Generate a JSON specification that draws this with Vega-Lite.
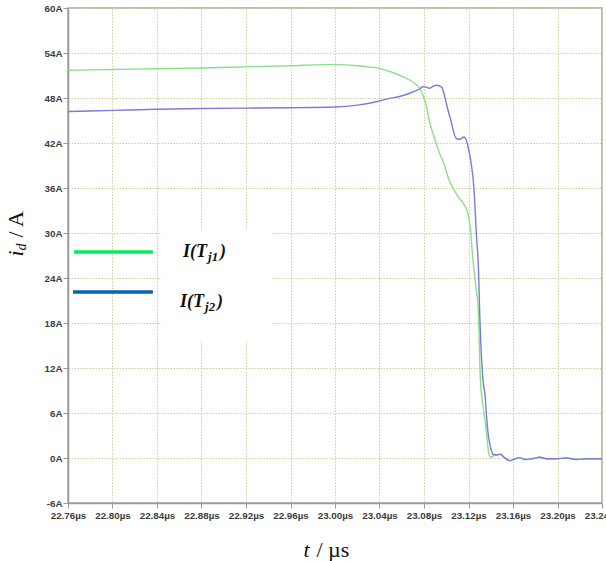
{
  "$schema": "https://vega.github.io/schema/vega-lite/v6.json",
  "width": 534,
  "height": 495,
  "autosize": {"type": "none"},
  "padding": {"left": 68, "top": 8, "right": 4, "bottom": 58},
  "background": "white",
  "config": {
    "view": {"stroke": "#a8a8a8", "strokeWidth": 1.5},
    "axis": {
      "labelFont": "Liberation Sans",
      "labelFontWeight": "bold",
      "labelFontSize": 9.8,
      "labelColor": "#3c3c3c",
      "labelFlush": false,
      "labelOverlap": false,
      "domainColor": "#9a9a9a",
      "domainWidth": 1.5,
      "tickColor": "#9a9a9a",
      "tickSize": 5,
      "gridColor": "#cfcf9c",
      "gridDash": [1.5, 1.5],
      "gridWidth": 1,
      "titleColor": "#111111",
      "titleFont": "Liberation Serif",
      "titleFontWeight": "normal"
    }
  },
  "datasets": {
    "curves": [
      {"series": "I(Tj1)", "t": 22.76, "i": 51.7},
      {"series": "I(Tj1)", "t": 22.80, "i": 51.8},
      {"series": "I(Tj1)", "t": 22.84, "i": 51.9},
      {"series": "I(Tj1)", "t": 22.88, "i": 52.0},
      {"series": "I(Tj1)", "t": 22.92, "i": 52.15},
      {"series": "I(Tj1)", "t": 22.96, "i": 52.3},
      {"series": "I(Tj1)", "t": 22.99, "i": 52.45},
      {"series": "I(Tj1)", "t": 23.005, "i": 52.45},
      {"series": "I(Tj1)", "t": 23.02, "i": 52.3},
      {"series": "I(Tj1)", "t": 23.03, "i": 52.15},
      {"series": "I(Tj1)", "t": 23.04, "i": 51.95},
      {"series": "I(Tj1)", "t": 23.05, "i": 51.5},
      {"series": "I(Tj1)", "t": 23.06, "i": 50.9},
      {"series": "I(Tj1)", "t": 23.067, "i": 50.4},
      {"series": "I(Tj1)", "t": 23.072, "i": 49.9},
      {"series": "I(Tj1)", "t": 23.076, "i": 49.3},
      {"series": "I(Tj1)", "t": 23.079, "i": 48.4},
      {"series": "I(Tj1)", "t": 23.082, "i": 47.0},
      {"series": "I(Tj1)", "t": 23.085, "i": 44.8},
      {"series": "I(Tj1)", "t": 23.09, "i": 42.4},
      {"series": "I(Tj1)", "t": 23.094, "i": 40.6},
      {"series": "I(Tj1)", "t": 23.097, "i": 39.6},
      {"series": "I(Tj1)", "t": 23.102, "i": 37.3},
      {"series": "I(Tj1)", "t": 23.106, "i": 36.0},
      {"series": "I(Tj1)", "t": 23.11, "i": 35.0},
      {"series": "I(Tj1)", "t": 23.115, "i": 34.0},
      {"series": "I(Tj1)", "t": 23.1195, "i": 32.6},
      {"series": "I(Tj1)", "t": 23.122, "i": 30.0},
      {"series": "I(Tj1)", "t": 23.124, "i": 26.4},
      {"series": "I(Tj1)", "t": 23.1267, "i": 22.8},
      {"series": "I(Tj1)", "t": 23.1288, "i": 19.7},
      {"series": "I(Tj1)", "t": 23.1307, "i": 10.4},
      {"series": "I(Tj1)", "t": 23.133, "i": 7.0},
      {"series": "I(Tj1)", "t": 23.136, "i": 3.7},
      {"series": "I(Tj1)", "t": 23.138, "i": 0.8},
      {"series": "I(Tj1)", "t": 23.14, "i": 0.1},
      {"series": "I(Tj1)", "t": 23.143, "i": 0.3},
      {"series": "I(Tj1)", "t": 23.148, "i": 0.5},
      {"series": "I(Tj1)", "t": 23.152, "i": 0.1},
      {"series": "I(Tj1)", "t": 23.157, "i": -0.35},
      {"series": "I(Tj1)", "t": 23.162, "i": -0.1},
      {"series": "I(Tj1)", "t": 23.166, "i": 0.05},
      {"series": "I(Tj1)", "t": 23.171, "i": -0.2},
      {"series": "I(Tj1)", "t": 23.177, "i": -0.1},
      {"series": "I(Tj1)", "t": 23.184, "i": 0.1},
      {"series": "I(Tj1)", "t": 23.19, "i": -0.1},
      {"series": "I(Tj1)", "t": 23.199, "i": -0.1},
      {"series": "I(Tj1)", "t": 23.208, "i": 0.0},
      {"series": "I(Tj1)", "t": 23.217, "i": -0.2},
      {"series": "I(Tj1)", "t": 23.226, "i": -0.1},
      {"series": "I(Tj1)", "t": 23.24, "i": -0.1},
      {"series": "I(Tj2)", "t": 22.76, "i": 46.2},
      {"series": "I(Tj2)", "t": 22.80, "i": 46.35},
      {"series": "I(Tj2)", "t": 22.84, "i": 46.5},
      {"series": "I(Tj2)", "t": 22.88, "i": 46.6},
      {"series": "I(Tj2)", "t": 22.92, "i": 46.65},
      {"series": "I(Tj2)", "t": 22.96, "i": 46.7},
      {"series": "I(Tj2)", "t": 23.00, "i": 46.8},
      {"series": "I(Tj2)", "t": 23.02, "i": 47.05},
      {"series": "I(Tj2)", "t": 23.037, "i": 47.5},
      {"series": "I(Tj2)", "t": 23.049, "i": 47.95},
      {"series": "I(Tj2)", "t": 23.058, "i": 48.2},
      {"series": "I(Tj2)", "t": 23.07, "i": 48.8},
      {"series": "I(Tj2)", "t": 23.076, "i": 49.2},
      {"series": "I(Tj2)", "t": 23.079, "i": 49.5},
      {"series": "I(Tj2)", "t": 23.082, "i": 49.45},
      {"series": "I(Tj2)", "t": 23.085, "i": 49.3},
      {"series": "I(Tj2)", "t": 23.088, "i": 49.55},
      {"series": "I(Tj2)", "t": 23.091, "i": 49.7},
      {"series": "I(Tj2)", "t": 23.094, "i": 49.6},
      {"series": "I(Tj2)", "t": 23.096, "i": 49.4},
      {"series": "I(Tj2)", "t": 23.098, "i": 48.6},
      {"series": "I(Tj2)", "t": 23.1, "i": 47.3},
      {"series": "I(Tj2)", "t": 23.104, "i": 45.1},
      {"series": "I(Tj2)", "t": 23.109, "i": 42.6},
      {"series": "I(Tj2)", "t": 23.112, "i": 42.5},
      {"series": "I(Tj2)", "t": 23.116, "i": 42.8},
      {"series": "I(Tj2)", "t": 23.118, "i": 42.4},
      {"series": "I(Tj2)", "t": 23.12, "i": 41.2},
      {"series": "I(Tj2)", "t": 23.122, "i": 39.7},
      {"series": "I(Tj2)", "t": 23.125, "i": 35.7},
      {"series": "I(Tj2)", "t": 23.126, "i": 33.1},
      {"series": "I(Tj2)", "t": 23.127, "i": 30.0},
      {"series": "I(Tj2)", "t": 23.129, "i": 25.0},
      {"series": "I(Tj2)", "t": 23.13, "i": 19.7},
      {"series": "I(Tj2)", "t": 23.133, "i": 10.4},
      {"series": "I(Tj2)", "t": 23.135, "i": 8.2},
      {"series": "I(Tj2)", "t": 23.136, "i": 6.0},
      {"series": "I(Tj2)", "t": 23.138, "i": 2.8},
      {"series": "I(Tj2)", "t": 23.14, "i": 1.3},
      {"series": "I(Tj2)", "t": 23.142, "i": 0.5},
      {"series": "I(Tj2)", "t": 23.145, "i": 0.4},
      {"series": "I(Tj2)", "t": 23.149, "i": 0.5},
      {"series": "I(Tj2)", "t": 23.152, "i": 0.1},
      {"series": "I(Tj2)", "t": 23.157, "i": -0.35},
      {"series": "I(Tj2)", "t": 23.162, "i": -0.1},
      {"series": "I(Tj2)", "t": 23.166, "i": 0.05},
      {"series": "I(Tj2)", "t": 23.171, "i": -0.2},
      {"series": "I(Tj2)", "t": 23.177, "i": -0.1},
      {"series": "I(Tj2)", "t": 23.184, "i": 0.1},
      {"series": "I(Tj2)", "t": 23.19, "i": -0.1},
      {"series": "I(Tj2)", "t": 23.199, "i": -0.1},
      {"series": "I(Tj2)", "t": 23.208, "i": 0.0},
      {"series": "I(Tj2)", "t": 23.217, "i": -0.2},
      {"series": "I(Tj2)", "t": 23.226, "i": -0.1},
      {"series": "I(Tj2)", "t": 23.24, "i": -0.1}
    ],
    "legend": [
      {"series": "I(Tj1)", "x0": 22.7654, "x1": 22.8363, "level": 27.47, "tx": 22.8634, "ty": 26.8, "main": "I(T", "sub": "j1"},
      {"series": "I(Tj2)", "x0": 22.7645, "x1": 22.8363, "level": 22.13, "tx": 22.8607, "ty": 20.17, "main": "I(T", "sub": "j2"}
    ],
    "panel": [
      {"t": 22.8445, "t2": 22.9434, "i": 30.5, "i2": 15.7}
    ]
  },
  "layer": [
    {
      "data": {"name": "curves"},
      "mark": {"type": "line", "strokeWidth": 1.4, "interpolate": "monotone"},
      "encoding": {
        "x": {
          "field": "t", "type": "quantitative",
          "scale": {"domain": [22.76, 23.24], "nice": false, "zero": false},
          "axis": {
            "orient": "bottom",
            "values": [22.76, 22.8, 22.84, 22.88, 22.92, 22.96, 23.0, 23.04, 23.08, 23.12, 23.16, 23.2, 23.24],
            "labelExpr": "format(datum.value, '.2f') + 'µs'",
            "labelPadding": 2,
            "title": "t",
            "titleFontSize": 22,
            "titleFontStyle": "italic",
            "titleAlign": "left",
            "titleBaseline": "alphabetic",
            "titleX": 235,
            "titleY": 53
          }
        },
        "y": {
          "field": "i", "type": "quantitative",
          "scale": {"domain": [-6, 60], "nice": false, "zero": false},
          "axis": {
            "orient": "left",
            "values": [-6, 0, 6, 12, 18, 24, 30, 36, 42, 48, 54, 60],
            "labelExpr": "datum.value + 'A'",
            "labelPadding": 1,
            "title": "i",
            "titleFontSize": 22,
            "titleFontStyle": "italic",
            "titleAngle": 270,
            "titleAlign": "left",
            "titleBaseline": "alphabetic",
            "titleX": -46,
            "titleY": 248
          }
        },
        "color": {
          "field": "series", "type": "nominal",
          "scale": {"domain": ["I(Tj1)", "I(Tj2)"], "range": ["#8be08b", "#7b7bdc"]},
          "legend": null
        }
      }
    },
    {
      "data": {"name": "panel"},
      "mark": {"type": "rect", "fill": "white"},
      "encoding": {
        "x": {
          "field": "t", "type": "quantitative",
          "scale": {"domain": [22.76, 23.24], "nice": false, "zero": false},
          "axis": {
            "orient": "bottom", "labels": false, "ticks": false, "domain": false, "grid": false,
            "title": "/ µs",
            "titleFontSize": 22,
            "titleAlign": "left",
            "titleBaseline": "alphabetic",
            "titleX": 248,
            "titleY": 53
          }
        },
        "x2": {"field": "t2"},
        "y": {
          "field": "i", "type": "quantitative",
          "scale": {"domain": [-6, 60], "nice": false, "zero": false},
          "axis": {
            "orient": "left", "labels": false, "ticks": false, "domain": false, "grid": false,
            "title": "d",
            "titleFontSize": 14,
            "titleFontStyle": "italic",
            "titleAngle": 270,
            "titleAlign": "left",
            "titleBaseline": "alphabetic",
            "titleX": -43,
            "titleY": 242
          }
        },
        "y2": {"field": "i2"}
      }
    },
    {
      "data": {"name": "legend"},
      "mark": {"type": "rule", "strokeWidth": 3.5},
      "encoding": {
        "x": {
          "field": "x0", "type": "quantitative",
          "scale": {"domain": [22.76, 23.24], "nice": false, "zero": false},
          "axis": null
        },
        "x2": {"field": "x1"},
        "y": {
          "field": "level", "type": "quantitative",
          "scale": {"domain": [-6, 60], "nice": false, "zero": false},
          "axis": {
            "orient": "left", "labels": false, "ticks": false, "domain": false, "grid": false,
            "title": "/ A",
            "titleFontSize": 22,
            "titleAngle": 270,
            "titleAlign": "left",
            "titleBaseline": "alphabetic",
            "titleX": -46,
            "titleY": 229
          }
        },
        "stroke": {
          "field": "series", "type": "nominal",
          "scale": {"domain": ["I(Tj1)", "I(Tj2)"], "range": ["#00ee5a", "#0a62b0"]},
          "legend": null
        }
      }
    },
    {
      "data": {"name": "legend"},
      "mark": {"type": "text", "align": "left", "baseline": "alphabetic", "font": "Liberation Serif", "fontSize": 18, "fontStyle": "italic", "fontWeight": "bold", "color": "#111111"},
      "encoding": {
        "x": {"field": "tx", "type": "quantitative", "scale": {"domain": [22.76, 23.24], "nice": false, "zero": false}, "axis": null},
        "y": {"field": "ty", "type": "quantitative", "scale": {"domain": [-6, 60], "nice": false, "zero": false}, "axis": null},
        "text": {"field": "main"}
      }
    },
    {
      "data": {"name": "legend"},
      "mark": {"type": "text", "align": "left", "baseline": "alphabetic", "font": "Liberation Serif", "fontSize": 13, "fontStyle": "italic", "fontWeight": "bold", "color": "#111111", "dx": 25, "dy": 4},
      "encoding": {
        "x": {"field": "tx", "type": "quantitative", "scale": {"domain": [22.76, 23.24], "nice": false, "zero": false}, "axis": null},
        "y": {"field": "ty", "type": "quantitative", "scale": {"domain": [-6, 60], "nice": false, "zero": false}, "axis": null},
        "text": {"field": "sub"}
      }
    },
    {
      "data": {"name": "legend"},
      "mark": {"type": "text", "align": "left", "baseline": "alphabetic", "font": "Liberation Serif", "fontSize": 18, "fontStyle": "italic", "fontWeight": "bold", "color": "#111111", "dx": 37},
      "encoding": {
        "x": {"field": "tx", "type": "quantitative", "scale": {"domain": [22.76, 23.24], "nice": false, "zero": false}, "axis": null},
        "y": {"field": "ty", "type": "quantitative", "scale": {"domain": [-6, 60], "nice": false, "zero": false}, "axis": null},
        "text": {"value": ")"}
      }
    }
  ],
  "resolve": {"axis": {"x": "independent", "y": "independent"}}
}
